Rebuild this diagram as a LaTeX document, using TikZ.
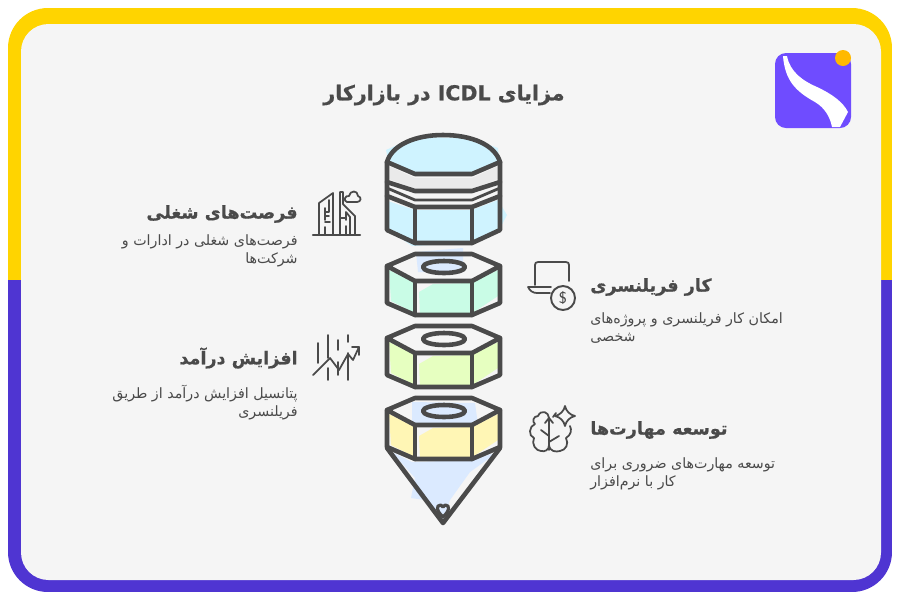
\documentclass[tikz,border=0pt]{standalone}
\usepackage{fontspec}
\newfontfamily\arabicfont[Script=Arabic]{DejaVu Sans}
\newfontfamily\arabicheavy[Script=Arabic,FakeBold=0.7]{DejaVu Sans Bold}
\TeXXeTstate=1
\usepackage{xcolor}
\usetikzlibrary{positioning}
\usetikzlibrary{arrows.meta}
\definecolor{goldband}{HTML}{FFD400}
\definecolor{purpleband}{HTML}{4F35D2}
\definecolor{paneback}{HTML}{F5F5F5}
\definecolor{inkgray}{HTML}{4A4A4A}
\definecolor{logoback}{HTML}{6F4CFF}
\definecolor{logodot}{HTML}{FFB900}
\definecolor{skyfill}{HTML}{CFF3FF}
\definecolor{mintfill}{HTML}{C9FCE6}
\definecolor{limefill}{HTML}{E6FFC0}
\definecolor{butterfill}{HTML}{FFF6B5}
\definecolor{bluefill}{HTML}{DBEAFF}
\definecolor{bandfill}{HTML}{EAEAEA}
\tikzset{>=stealth}
\tikzset{
  pen/.style={draw=inkgray, line width=2.6pt, line join=round, line cap=round},
  thinpen/.style={draw=inkgray, line width=1pt, line join=round, line cap=round},
  headleft/.style={font=\arabicheavy\fontsize{10}{12}\selectfont, text=inkgray, anchor=east, inner sep=0pt},
  headright/.style={font=\arabicheavy\fontsize{10}{12}\selectfont, text=inkgray, anchor=west, inner sep=0pt},
  bodyleft/.style={font=\arabicfont\fontsize{8.1}{10.2}\selectfont, text=inkgray, anchor=north east, align=right, inner sep=0pt},
  bodyright/.style={font=\arabicfont\fontsize{8.1}{10.2}\selectfont, text=inkgray, anchor=north west, align=left, inner sep=0pt}
}
\begin{document}
\begin{tikzpicture}[x=0.02cm, y=-0.02cm]
    \useasboundingbox (0,0) rectangle (900,600);
    \fill [white] (0,0) rectangle (900,600);
    %% Frame
    \begin{scope}
      \clip [rounded corners=0.8cm] (8,8) rectangle (892,592);
      \fill [goldband] (8,8) rectangle (892,280);
      \fill [purpleband] (8,280) rectangle (892,592);
    \end{scope}
    \fill [paneback, rounded corners=0.55cm] (21,24) rectangle (881,580);
    %% Logo
    \fill [logoback, rounded corners=0.22cm] (775,53) rectangle (851,128);
    \fill [white] (783,56) -- (787,56) .. controls (790,72) and (803,81) .. (817,87)
      .. controls (832,94) and (843,102) .. (848,112) -- (840,127) -- (832,127)
      .. controls (830,117) and (825,108) .. (815,102) .. controls (795,91) and (785,80) .. (783,56) -- cycle;
    \fill [logodot] (843,58) circle [radius=8];
    %% Title
    \node [font=\arabicheavy\fontsize{11.7}{14}\selectfont, text=inkgray, inner sep=0pt] (title) at (444,95)
      {\beginR مزایای \beginL ICDL\endL{} در بازارکار\endR};
    %% Sketchy colour behind the column
    \fill [skyfill] (386,150) -- (415,137) -- (470,138) -- (498,148) -- (499,162) -- (472,173) -- (415,173) -- (388,160) -- cycle;
    \fill [skyfill] (385,200) -- (415,210) -- (472,210) -- (498,200) -- (507,215) -- (498,232) -- (472,243) -- (412,246) -- (386,228) -- cycle;
    \fill [bandfill] (389,166) -- (415,178) -- (472,178) -- (498,166) -- (498,179) -- (472,189) -- (415,189) -- (389,179) -- cycle;
    \fill [bluefill] (416,252) -- (463,248) -- (463,272) -- (418,272) -- cycle;
    \fill [bluefill] (412,402) -- (475,403) -- (478,425) -- (412,425) -- cycle;
    \fill [bluefill] (392,452) -- (412,462) -- (472,460) -- (498,452) -- (470,472) -- (450,500) -- (443,520) -- (425,500) -- (411,498) -- (415,478) -- cycle;
    %% Nuts
    \foreach \ny/\nfill/\nname in {254/mintfill/nutone, 326/limefill/nuttwo, 398/butterfill/nutthree} {
      \fill [\nfill] (389,\ny+16) -- (413,\ny+28) -- (413,\ny+58) -- (391,\ny+47) -- cycle;
      \fill [\nfill] (419,\ny+38) -- (433,\ny+30) -- (470,\ny+29) -- (470,\ny+60) -- (420,\ny+62) -- cycle;
      \fill [\nfill] (474,\ny+28) -- (498,\ny+16) -- (498,\ny+42) -- (474,\ny+58) -- cycle;
      \draw [pen] (387,\ny+12) -- (415,\ny) -- (472,\ny) -- (500,\ny+12) -- (472,\ny+27) -- (415,\ny+27) -- cycle;
      \draw [pen] (387,\ny+12) -- (387,\ny+49) -- (415,\ny+61) -- (472,\ny+61) -- (500,\ny+49) -- (500,\ny+12);
      \draw [pen] (415,\ny+27) -- (415,\ny+61) (472,\ny+27) -- (472,\ny+61);
      \draw [pen] (444,\ny+13) ellipse [x radius=21, y radius=6];
    }
    %% Cap
    \draw [pen] (387,162) .. controls (392,145) and (415,135) .. (443,135) .. controls (472,135) and (495,145) .. (500,162);
    \draw [pen] (387,162) -- (415,174) -- (472,174) -- (500,162);
    \draw [pen] (387,182) -- (415,191) -- (472,191) -- (500,182);
    \draw [pen, line width=1.6pt] (387,188) -- (415,200) -- (472,200) -- (500,188);
    \draw [pen] (387,196) -- (415,207) -- (472,207) -- (500,196);
    \draw [pen] (387,162) -- (387,230) -- (415,243) -- (472,243) -- (500,230) -- (500,162);
    \draw [pen] (415,207) -- (415,243) (472,207) -- (472,243);
    %% Tip
    \draw [pen] (387,448) -- (443,523) -- (500,448);
    \draw [pen, line width=1.8pt] (438,506) .. controls (436,510) and (440,514) .. (443,517) .. controls (446,514) and (450,510) .. (448,506) .. controls (446,504) and (444,505) .. (443,507) .. controls (442,505) and (440,504) .. (438,506) -- cycle;
    %% Left side texts
    \node [headleft] (jobhead) at (298,214) {\beginR فرصت‌های شغلی\endR};
    \node [bodyleft] (jobbody) at (298,234) {\beginR فرصت‌های شغلی در ادارات و\endR\\\beginR شرکت‌ها\endR};
    \node [headleft] (incomehead) at (298,358) {\beginR افزایش درآمد\endR};
    \node [bodyleft] (incomebody) at (298,385) {\beginR پتانسیل افزایش درآمد از طریق\endR\\\beginR فریلنسری\endR};
    %% Right side texts
    \node [headright] (freehead) at (590,287) {\beginR کار فریلنسری\endR};
    \node [bodyright] (freebody) at (590,312) {\beginR امکان کار فریلنسری و پروژه‌های\endR\\\beginR شخصی\endR};
    \node [headright] (skillhead) at (590,430) {\beginR توسعه مهارت‌ها\endR};
    \node [bodyright] (skillbody) at (590,457) {\beginR توسعه مهارت‌های ضروری برای\endR\\\beginR کار با نرم‌افزار\endR};
    %% Building icon
    \draw [thinpen, line width=1.2pt] (313,235) -- (360,235);
    \draw [thinpen] (319,235) -- (319,203) -- (333,193) -- (333,235);
    \draw [thinpen] (325,235) -- (325,227) (325,220) -- (325,208) (329,200) -- (329,212) -- (325,212);
    \draw [thinpen] (325,222) -- (330,222) (325,216) -- (329,216);
    \draw [thinpen] (340,235) -- (340,192) -- (343,192) -- (343,204) -- (355,216) -- (355,235);
    \draw [thinpen] (346,235) -- (346,226) (346,220) -- (346,212) -- (350,217) -- (350,235) (340,218) -- (346,218);
    \draw [thinpen] (347,202) .. controls (343,201) and (345,195) .. (349,196) .. controls (350,190) and (358,190) .. (358,196) .. controls (362,197) and (361,202) .. (357,202) -- cycle;
    %% Chart icon
    \draw [thinpen] (318,343) -- (318,363) (328,335) -- (328,358) (338,340) -- (338,350) (348,335) -- (348,342);
    \draw [thinpen] (328,368) -- (328,380) (338,362) -- (338,375) (348,353) -- (348,380);
    \draw [thinpen] (313,375) -- (330,358) -- (339,370) -- (348,354) -- (353,360) -- (359,347);
    \draw [thinpen] (352,347) -- (359,347) -- (359,355);
    %% Laptop icon
    \draw [thinpen] (535,285) -- (535,265) .. controls (535,263) and (536,262) .. (538,262) -- (566,262) .. controls (568,262) and (569,263) .. (569,265) -- (569,281);
    \draw [thinpen] (528,287) -- (551,287) (528,287) .. controls (530,291) and (533,293) .. (537,293) -- (550,293);
    \draw [thinpen, line width=1.1pt] (563,298) circle [radius=12];
    \node [font=\sffamily\fontsize{9}{10}\selectfont, text=inkgray, inner sep=0pt] (dollar) at (563,298) {\$};
    %% Brain icon
    \draw [thinpen] (549,450) -- (549,418) .. controls (549,412) and (541,409) .. (538,416) .. controls (533,416) and (532,422) .. (535,424)
      .. controls (529,426) and (528,436) .. (534,438) .. controls (531,444) and (536,451) .. (541,451) .. controls (545,452) and (549,450) .. (549,445);
    \draw [thinpen] (549,445) .. controls (550,452) and (556,452) .. (560,451) .. controls (566,450) and (569,444) .. (566,438)
      .. controls (571,435) and (572,430) .. (570,426);
    \draw [thinpen] (549,418) -- (545,423) (549,418) -- (553,423) (549,436) -- (541,430) (549,442) -- (559,436) (556,413) -- (553,417);
    \draw [thinpen] (565,406) .. controls (566,411) and (570,415) .. (575,416) .. controls (570,417) and (566,421) .. (565,426) .. controls (564,421) and (560,417) .. (555,416) .. controls (560,415) and (564,411) .. (565,406) -- cycle;
\end{tikzpicture}
\end{document}
